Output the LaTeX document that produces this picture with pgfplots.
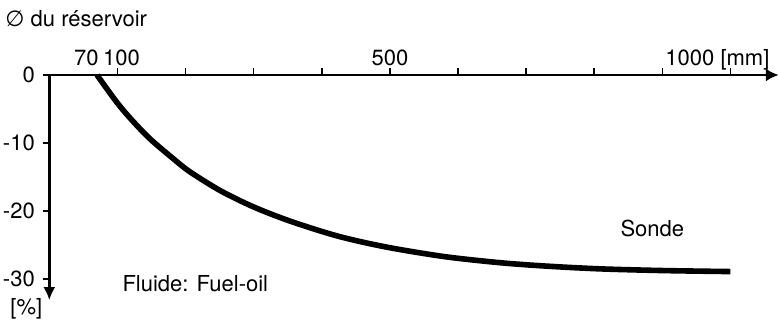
\documentclass[border=0pt]{standalone}
\usepackage{fontspec}
\setmainfont{TeX Gyre Heros}
\newfontfamily\dejavu{DejaVu Sans}
\usepackage{pgfplots}
\pgfplotsset{compat=1.18}
\usetikzlibrary{arrows.meta}
\newcommand\chfont{\fontsize{11}{13}\selectfont}
\begin{document}
\chfont
\begin{tikzpicture}[font=\chfont]
\begin{axis}[
  x=0.3405pt, y=3.4pt,
  xmin=0, xmax=1071, ymin=-33.1, ymax=0,
  axis x line=top, axis y line=left,
  x axis line style={line width=1.2pt, -{Latex[length=6.5pt,width=6.5pt]}},
  y axis line style={line width=1.2pt, {Latex[length=6.5pt,width=6pt]}-},
  tick align=outside,
  major tick length=3.4pt,
  tick style={line width=0.8pt, black},
  tick label style={font=\chfont},
  xticklabel style={anchor=base, yshift=1.2pt},
  /pgf/number format/assume math mode=true,
  xtick={100,200,...,1000},
  xticklabels={\makebox[0pt]{\hspace{4pt}100},,,,500,,,,,\makebox[0pt]{\hspace{-13pt}1000 [mm]}},
  extra x ticks={70},
  extra x tick labels={\makebox[0pt]{\hspace{-10.7pt}70}},
  extra x tick style={major tick length=0pt, xticklabel style={yshift=3.4pt}},
  ytick={-30,-20,-10,0},
  yticklabels={-30,-20,-10,0},
  clip=false,
]
\addplot[line width=2.8pt, smooth, black] coordinates {
  (70,0) (99,-4.0) (121,-6.6) (148,-9.4) (182,-12.3) (206,-14.2)
  (251,-17.0) (300,-19.4) (354,-21.5) (424,-23.7) (495,-25.3)
  (580,-26.7) (662,-27.6) (730,-28.1) (808,-28.5) (900,-28.75) (1000,-28.9)
};
\node[anchor=base west, inner sep=0pt] at (axis cs:-65,7.2) {{\dejavu ∅} du réservoir};
\node[anchor=base west, inner sep=0pt] at (axis cs:838,-23.8) {Sonde};
\node[anchor=base west, inner sep=0pt] at (axis cs:106.9,-31.8) {Fluide: Fuel-oil};
\node[anchor=base west, inner sep=0pt] at (axis cs:-57.7,-35.15) {[\%]};
\coordinate (bl) at (axis cs:-72.4,-36.03);
\coordinate (tr) at (axis cs:1071.3,11.03);
\end{axis}
\pgfresetboundingbox
\path[use as bounding box] (bl) rectangle (tr);
\end{tikzpicture}
\end{document}
